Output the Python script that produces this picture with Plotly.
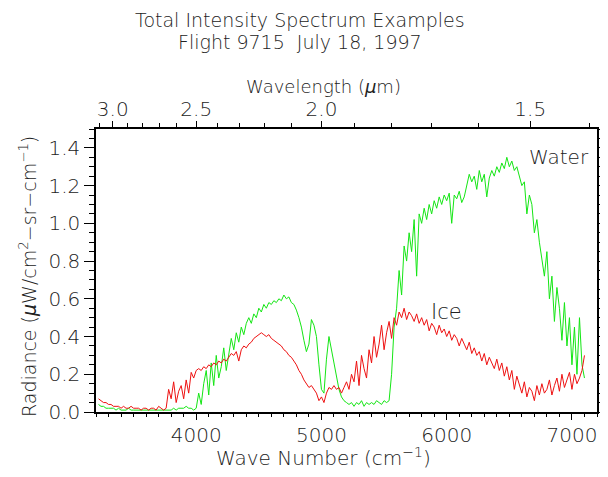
import plotly.graph_objects as go

# Wave number grid (cm^-1)
wavenumber = list(range(3220, 7101, 20))

# Ice spectrum radiance (uW/cm^2-sr-cm^-1)
ice = [
    0.07, 0.06, 0.05, 0.05, 0.04, 0.04, 0.03, 0.03, 0.03, 0.02,
    0.03, 0.02, 0.02, 0.03, 0.02, 0.02, 0.02, 0.01, 0.02, 0.02,
    0.01, 0.02, 0.02, 0.01, 0.03, 0.02, 0.01, 0.02, 0.12, 0.07,
    0.16, 0.05, 0.11, 0.14, 0.07, 0.17, 0.10, 0.21, 0.18, 0.22,
    0.23, 0.22, 0.24, 0.23, 0.25, 0.24, 0.26, 0.25, 0.27, 0.26,
    0.28, 0.27, 0.29, 0.31, 0.30, 0.32, 0.27, 0.33, 0.35, 0.34,
    0.36, 0.37, 0.39, 0.40, 0.41, 0.42, 0.41, 0.40, 0.41, 0.39,
    0.38, 0.37, 0.36, 0.35, 0.33, 0.32, 0.30, 0.29, 0.27, 0.25,
    0.22, 0.20, 0.17, 0.15, 0.13, 0.14, 0.12, 0.10, 0.06, 0.08,
    0.05, 0.10, 0.13, 0.12, 0.14, 0.12, 0.13, 0.10, 0.13, 0.16,
    0.12, 0.20, 0.16, 0.27, 0.14, 0.30, 0.23, 0.18, 0.33, 0.26,
    0.40, 0.29, 0.36, 0.46, 0.33, 0.42, 0.48, 0.39, 0.50, 0.46,
    0.53, 0.50, 0.55, 0.49, 0.53, 0.51, 0.48, 0.52, 0.47, 0.50,
    0.46, 0.49, 0.43, 0.47, 0.45, 0.41, 0.46, 0.42, 0.44, 0.40,
    0.43, 0.38, 0.41, 0.39, 0.35, 0.39, 0.36, 0.33, 0.37, 0.31,
    0.34, 0.30, 0.32, 0.27, 0.31, 0.25, 0.29, 0.26, 0.23, 0.28,
    0.22, 0.26, 0.19, 0.24, 0.17, 0.22, 0.12, 0.19, 0.15, 0.10,
    0.16, 0.08, 0.13, 0.11, 0.06, 0.14, 0.09, 0.15, 0.10, 0.12,
    0.17, 0.09, 0.14, 0.18, 0.11, 0.20, 0.13, 0.17, 0.21, 0.12,
    0.20, 0.15, 0.18, 0.22, 0.30,
]

# Water spectrum radiance
water = [
    0.04, 0.03, 0.03, 0.02, 0.02, 0.02, 0.02, 0.01, 0.02, 0.01,
    0.01, 0.01, 0.02, 0.01, 0.01, 0.01, 0.01, 0.01, 0.01, 0.01,
    0.01, 0.01, 0.01, 0.01, 0.01, 0.01, 0.01, 0.01, 0.01, 0.01,
    0.02, 0.01, 0.02, 0.02, 0.02, 0.03, 0.02, 0.02, 0.01, 0.02,
    0.10, 0.04, 0.15, 0.22, 0.09, 0.26, 0.14, 0.30, 0.18, 0.24,
    0.34, 0.22, 0.30, 0.39, 0.33, 0.42, 0.37, 0.45, 0.41, 0.47,
    0.50, 0.47, 0.52, 0.50, 0.55, 0.53, 0.57, 0.55, 0.58, 0.57,
    0.59, 0.58, 0.60, 0.59, 0.62, 0.60, 0.61, 0.58, 0.57, 0.54,
    0.50, 0.45, 0.38, 0.32, 0.36, 0.49, 0.46, 0.40, 0.25, 0.12,
    0.10, 0.28, 0.40, 0.33, 0.25, 0.17, 0.12, 0.08, 0.06, 0.05,
    0.04, 0.05, 0.03, 0.05, 0.04, 0.06, 0.03, 0.05, 0.04, 0.05,
    0.04, 0.06, 0.05, 0.04, 0.06, 0.05, 0.06, 0.20, 0.45, 0.55,
    0.75, 0.62, 0.88, 0.80, 0.95, 0.85, 1.02, 0.72, 1.05, 1.00,
    1.08, 1.02, 1.10, 1.05, 1.12, 1.08, 1.14, 1.10, 1.15, 1.12,
    1.16, 1.00, 1.15, 1.13, 1.17, 1.11, 1.14, 1.20, 1.26, 1.22,
    1.25, 1.18, 1.28, 1.22, 1.26, 1.14, 1.24, 1.28, 1.25, 1.30,
    1.27, 1.32, 1.29, 1.35, 1.30, 1.33, 1.28, 1.30, 1.25, 1.20,
    1.22, 1.05, 1.15, 1.10, 0.95, 1.02, 0.90, 0.80, 0.72, 0.85,
    0.60, 0.72, 0.48, 0.66, 0.55, 0.38, 0.58, 0.35, 0.50, 0.25,
    0.45, 0.20, 0.50, 0.25, 0.18,
]

# Tick definitions
wn_ticks = [4000, 5000, 6000, 7000]
wl_major = [3.0, 2.5, 2.0, 1.5]
wl_labels = ["3.0", "2.5", "2.0", "1.5"]
wl_minor = [3.1, 2.9, 2.8, 2.7, 2.6, 2.4, 2.3, 2.2, 2.1, 1.9, 1.8, 1.7, 1.6, 1.4]
y_ticks = [0.0, 0.2, 0.4, 0.6, 0.8, 1.0, 1.2, 1.4]

FONT = "DejaVu Sans"
TXT = "#222222"
X_RANGE = [3200, 7200]

fig = go.Figure()
fig.add_trace(go.Scatter(x=wavenumber, y=water, mode="lines",
                         line=dict(color="#14e614", width=1), name="Water"))
fig.add_trace(go.Scatter(x=wavenumber, y=ice, mode="lines",
                         line=dict(color="#ee1111", width=1), name="Ice"))
# anchor trace for top wavelength axis
fig.add_trace(go.Scatter(x=[wavenumber[0]], y=[ice[0]], xaxis="x2", mode="markers",
                         marker=dict(opacity=0), hoverinfo="skip", showlegend=False))

axis_common = dict(showline=True, linecolor="black", linewidth=1.5, ticks="outside",
                   tickcolor="black", tickwidth=1.2, showgrid=False, zeroline=False,
                   automargin=False,
                   tickfont=dict(family=FONT, size=20, color=TXT))

# body has an 8px margin in the page, so the figure is 8px smaller
fig.update_layout(
    width=600, height=469,
    margin=dict(l=88, r=11, t=121, b=65),
    paper_bgcolor="white", plot_bgcolor="white",
    showlegend=False,
    font=dict(family=FONT, color=TXT, weight=300),
    xaxis=dict(range=X_RANGE, tickvals=wn_ticks, ticklen=6, ticklabelstandoff=-2,
               minor=dict(dtick=100, tick0=3200, ticklen=3, ticks="outside",
                          tickcolor="black", tickwidth=1),
               **axis_common),
    xaxis2=dict(range=X_RANGE, overlaying="x", side="top", anchor="y",
                tickmode="array", tickvals=[1e4 / w for w in wl_major],
                ticktext=wl_labels, ticklen=6, ticklabelstandoff=-3,
                minor=dict(tickmode="array", tickvals=[1e4 / w for w in wl_minor],
                           ticklen=4, ticks="outside", tickcolor="black", tickwidth=1),
                **axis_common),
    yaxis=dict(range=[0, 1.5], tickvals=y_ticks, tickformat=".1f", ticklen=10,
               mirror="ticks",
               minor=dict(dtick=0.05, tick0=0, ticklen=5, ticks="outside",
                          tickcolor="black", tickwidth=1),
               **axis_common),
)

def paper_text(x, y, text, size=20, angle=0):
    fig.add_annotation(x=x, y=y, xref="paper", yref="paper", text=text,
                       showarrow=False, textangle=angle, xanchor="center",
                       yanchor="middle",
                       font=dict(family=FONT, size=size, color=TXT, weight=300))

# Titles (paper coords relative to the plot area)
paper_text(0.407, 1.385, "Total Intensity Spectrum Examples", size=19)
paper_text(0.407, 1.307, "Flight 9715&nbsp;&nbsp;July 18, 1997", size=19)
paper_text(0.455, 1.150, "Wavelength (<i>μ</i>m)", size=18)
paper_text(0.455, -0.160, "Wave Number (cm<sup>−1</sup>)", size=20)
paper_text(-0.136, 0.48, "Radiance (<i>μ</i>W/cm<sup>2</sup>−sr−cm<sup>−1</sup>)",
           size=19, angle=-90)

fig.add_annotation(x=6900, y=1.35, text="Water", showarrow=False,
                   font=dict(family=FONT, size=20, color=TXT, weight=300))
fig.add_annotation(x=6000, y=0.53, text="Ice", showarrow=False,
                   font=dict(family=FONT, size=21, color=TXT, weight=300))

fig.write_html("out.html")
